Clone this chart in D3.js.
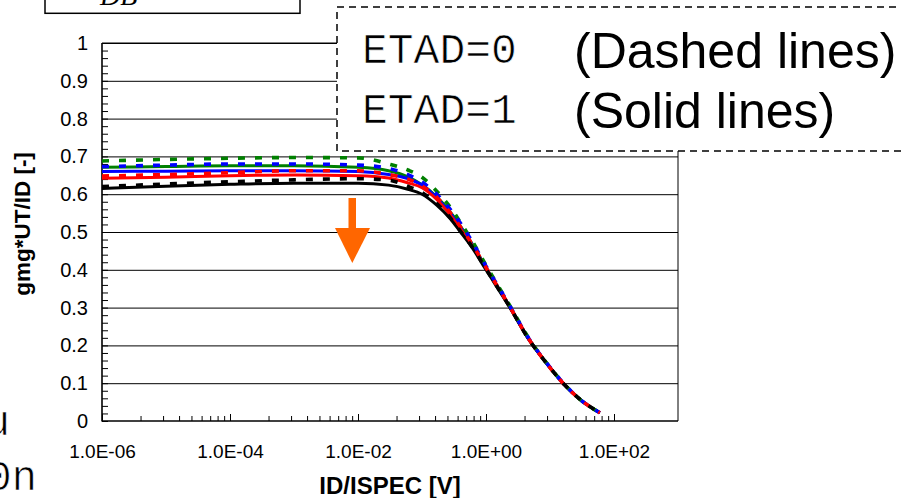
<!DOCTYPE html>
<html>
<head>
<meta charset="utf-8">
<script src="https://cdn.jsdelivr.net/npm/d3@7/dist/d3.min.js"></script>
<style>
  html, body { margin: 0; padding: 0; background: #fff; }
  svg { display: block; }
</style>
</head>
<body>
<svg id="chart" width="901" height="498"></svg>
<script>
// Normalised drain current samples (ID/ISPEC), shared by every curve
const idRatio = [1e-6, 1e-5, 1e-4, 1e-3, 1e-2, 0.03, 0.06, 0.1, 0.17, 0.27, 0.4, 0.6, 1, 2.4, 4.5, 9, 16, 30, 60];

// gm*UT/ID, ETAD=0 (dashed)
const greenDashed = [0.688, 0.692, 0.695, 0.697, 0.696, 0.680, 0.664, 0.645, 0.608, 0.568, 0.525, 0.478, 0.412, 0.303, 0.223, 0.152, 0.101, 0.056, 0.022];
const blueDashed  = [0.673, 0.677, 0.680, 0.680, 0.677, 0.668, 0.652, 0.632, 0.600, 0.562, 0.523, 0.476, 0.410, 0.302, 0.222, 0.152, 0.101, 0.056, 0.022];
const redDashed   = [0.648, 0.652, 0.657, 0.662, 0.662, 0.652, 0.640, 0.622, 0.592, 0.553, 0.513, 0.469, 0.406, 0.300, 0.221, 0.151, 0.100, 0.056, 0.022];
const blackDashed = [0.620, 0.627, 0.633, 0.638, 0.641, 0.637, 0.621, 0.604, 0.575, 0.540, 0.502, 0.462, 0.402, 0.299, 0.220, 0.151, 0.100, 0.056, 0.022];

// gm*UT/ID, ETAD=1 (solid)
const greenSolid = [0.671, 0.673, 0.675, 0.675, 0.671, 0.662, 0.646, 0.625, 0.593, 0.555, 0.515, 0.470, 0.406, 0.300, 0.221, 0.151, 0.100, 0.056, 0.022];
const blueSolid  = [0.660, 0.661, 0.662, 0.662, 0.660, 0.652, 0.641, 0.624, 0.590, 0.552, 0.512, 0.468, 0.405, 0.300, 0.221, 0.151, 0.100, 0.056, 0.022];
const redSolid   = [0.642, 0.645, 0.649, 0.651, 0.649, 0.643, 0.630, 0.617, 0.586, 0.547, 0.508, 0.466, 0.404, 0.299, 0.220, 0.151, 0.100, 0.056, 0.022];
const blackSolid = [0.615, 0.621, 0.626, 0.629, 0.629, 0.624, 0.613, 0.600, 0.571, 0.537, 0.500, 0.460, 0.400, 0.298, 0.220, 0.151, 0.100, 0.056, 0.022];

// Axis ticks and labels
const yTickValues = [0, 0.1, 0.2, 0.3, 0.4, 0.5, 0.6, 0.7, 0.8, 0.9, 1];
const yTickLabels = ["0", "0.1", "0.2", "0.3", "0.4", "0.5", "0.6", "0.7", "0.8", "0.9", "1"];
const xTickValues = [1e-6, 1e-4, 1e-2, 1, 1e2];
const xTickLabels = ["1.0E-06", "1.0E-04", "1.0E-02", "1.0E+00", "1.0E+02"];

const legendRows = [
  { code: "ETAD=0", note: "(Dashed lines)" },
  { code: "ETAD=1", note: "(Solid lines)" }
];

const svg = d3.select("#chart");
const plot = { left: 102, right: 678, top: 43, bottom: 421 };
const sans = "Liberation Sans, Arial, sans-serif";
const mono = "Liberation Mono, Courier New, monospace";

const x = d3.scaleLog().domain([1e-6, 1e3]).range([plot.left, plot.right]);
const y = d3.scaleLinear().domain([0, 1]).range([plot.bottom, plot.top]);

// Horizontal grid
svg.append("g")
  .attr("transform", `translate(${plot.left},0)`)
  .call(d3.axisRight(y).tickValues(yTickValues.filter(v => v > 0)).tickSize(plot.right - plot.left).tickFormat(""))
  .call(g => g.select(".domain").remove())
  .call(g => g.selectAll("line").attr("stroke", "#000").attr("stroke-width", 1));

// Right border
svg.append("line")
  .attr("x1", plot.right).attr("x2", plot.right)
  .attr("y1", plot.top).attr("y2", plot.bottom)
  .attr("stroke", "#000").attr("stroke-width", 1);

// Y minor ticks (inside) every 0.02
svg.append("g")
  .attr("transform", `translate(${plot.left},0)`)
  .call(d3.axisRight(y).tickValues(d3.range(0, 51).map(i => i / 50)).tickSize(6).tickSizeOuter(0).tickFormat(""))
  .call(g => g.select(".domain").remove())
  .call(g => g.selectAll("line").attr("stroke", "#000").attr("stroke-width", 1));

// Y labels
svg.append("g")
  .attr("transform", `translate(${plot.left},0)`)
  .call(d3.axisLeft(y).tickValues(yTickValues).tickSize(0).tickPadding(14)
    .tickFormat((d, i) => yTickLabels[i]))
  .call(g => g.select(".domain").remove())
  .call(g => g.selectAll("text")
    .attr("font-family", sans).attr("font-size", 20).attr("fill", "#000"));

// X ticks: major every two decades, minor at k^2 steps in between
const minorX = [];
xTickValues.slice(0, -1).forEach(v => { for (let k = 2; k <= 9; k++) minorX.push(v * k * k); });
svg.append("g")
  .attr("transform", `translate(0,${plot.bottom})`)
  .call(d3.axisTop(x).tickValues(minorX).tickSize(5).tickSizeOuter(0).tickFormat(""))
  .call(g => g.select(".domain").remove())
  .call(g => g.selectAll("line").attr("stroke", "#000").attr("stroke-width", 1));
svg.append("g")
  .attr("transform", `translate(0,${plot.bottom})`)
  .call(d3.axisTop(x).tickValues(xTickValues).tickSize(7).tickSizeOuter(0).tickFormat(""))
  .call(g => g.select(".domain").remove())
  .call(g => g.selectAll("line").attr("stroke", "#000").attr("stroke-width", 1));

// X labels
svg.append("g")
  .attr("transform", `translate(0,${plot.bottom})`)
  .call(d3.axisBottom(x).tickValues(xTickValues).tickSize(0).tickPadding(24)
    .tickFormat((d, i) => xTickLabels[i]))
  .call(g => g.select(".domain").remove())
  .call(g => g.selectAll("text")
    .attr("font-family", sans).attr("font-size", 19).attr("fill", "#000"));

// Axis lines
svg.append("line")
  .attr("x1", plot.left).attr("x2", plot.left)
  .attr("y1", plot.top).attr("y2", plot.bottom + 0.5)
  .attr("stroke", "#000").attr("stroke-width", 1.6);
svg.append("line")
  .attr("x1", plot.left).attr("x2", plot.right)
  .attr("y1", plot.bottom).attr("y2", plot.bottom)
  .attr("stroke", "#000").attr("stroke-width", 1.6);
svg.append("line")
  .attr("x1", plot.left).attr("x2", plot.right)
  .attr("y1", plot.top).attr("y2", plot.top)
  .attr("stroke", "#000").attr("stroke-width", 1);

// Curves
const line = d3.line()
  .x((d, i) => x(idRatio[i]))
  .y(d => y(d))
  .curve(d3.curveMonotoneX);

const curves = [
  { values: greenSolid, color: "#008000", dashed: false },
  { values: blueSolid,  color: "#0000ff", dashed: false },
  { values: redSolid,   color: "#ff0000", dashed: false },
  { values: blackSolid, color: "#000000", dashed: false },
  { values: greenDashed, color: "#008000", dashed: true },
  { values: blueDashed,  color: "#0000ff", dashed: true },
  { values: redDashed,   color: "#ff0000", dashed: true },
  { values: blackDashed, color: "#000000", dashed: true }
];

svg.append("g").selectAll("path")
  .data(curves)
  .join("path")
  .attr("d", d => line(d.values))
  .attr("fill", "none")
  .attr("stroke", d => d.color)
  .attr("stroke-width", d => d.dashed ? 3.6 : 3)
  .attr("stroke-dasharray", d => d.dashed ? "7,10" : null)
  .attr("stroke-linecap", "butt");

// Orange arrow showing the trend
const arrow = svg.append("g").attr("fill", "#ff6600");
arrow.append("rect").attr("x", 348.5).attr("y", 198).attr("width", 7.5).attr("height", 31);
arrow.append("path").attr("d", "M335,228 L370,228 L352.3,263 Z");

// Legend panel
const legend = svg.append("g");
legend.append("rect")
  .attr("x", 337).attr("y", 7).attr("width", 600).attr("height", 144)
  .attr("fill", "#fff").attr("stroke", "#000").attr("stroke-width", 1.5)
  .attr("stroke-dasharray", "7,5");
legendRows.forEach((r, i) => {
  const base = 63 + i * 60;
  legend.append("text")
    .attr("x", 362).attr("y", base)
    .attr("font-family", mono).attr("font-size", 43).attr("fill", "#000")
    .attr("stroke", "#fff").attr("stroke-width", 0.7)
    .text(r.code);
  legend.append("text")
    .attr("x", 574).attr("y", base + 5)
    .attr("font-family", sans).attr("font-size", 50).attr("fill", "#000")
    .text(r.note);
});

// Axis titles
svg.append("text")
  .attr("transform", "translate(29.5,224) rotate(-90)")
  .attr("text-anchor", "middle")
  .attr("font-family", sans).attr("font-weight", "bold").attr("font-size", 22.5)
  .text("gmg*UT/ID [-]");
svg.append("text")
  .attr("x", 390).attr("y", 494)
  .attr("text-anchor", "middle")
  .attr("font-family", sans).attr("font-weight", "bold").attr("font-size", 24)
  .text("ID/ISPEC [V]");

// Neighbouring page content cut at the edges
svg.append("rect")
  .attr("x", 45).attr("y", -10).attr("width", 255).attr("height", 23.3)
  .attr("fill", "none").attr("stroke", "#000").attr("stroke-width", 1.5);
svg.append("text")
  .attr("x", 100).attr("y", 5)
  .attr("font-family", "Liberation Serif, Times New Roman, serif")
  .attr("font-style", "italic").attr("font-size", 28)
  .text("DB");
svg.append("text").attr("x", 10).attr("y", 435).attr("text-anchor", "end")
  .attr("font-family", mono).attr("font-size", 42)
  .attr("stroke", "#fff").attr("stroke-width", 0.7).text("u");
svg.append("text").attr("x", 37).attr("y", 490).attr("text-anchor", "end")
  .attr("font-family", mono).attr("font-size", 42)
  .attr("stroke", "#fff").attr("stroke-width", 0.7).text("0n");
</script>
</body>
</html>
